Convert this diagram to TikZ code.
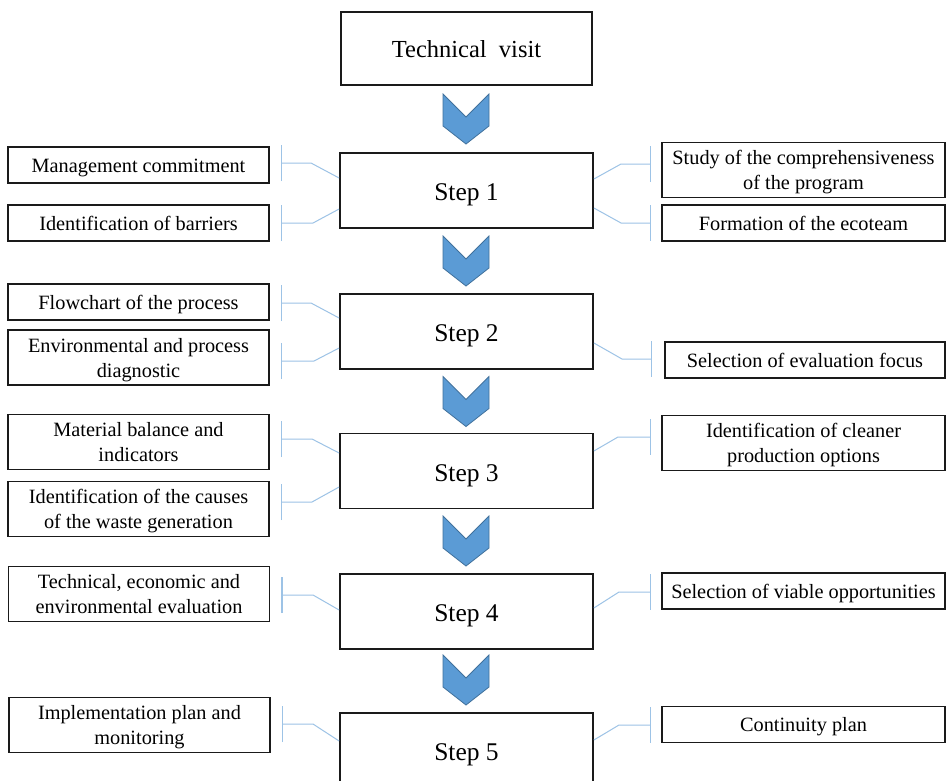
\documentclass[tikz,border=0pt]{standalone}
\usepackage{fontspec}
\setmainfont{Liberation Serif}
\usetikzlibrary{arrows.meta,calc}
\definecolor{chevfill}{HTML}{5B9BD5}
\definecolor{chevline}{HTML}{41719C}
\definecolor{connc}{HTML}{9DC3E6}
\definecolor{boxline}{HTML}{1A1A1A}
\tikzset{
  stepbox/.style={draw=boxline, line width=1.8pt, minimum width=253pt, minimum height=75pt, inner sep=0pt,
    font=\fontsize{25.5}{30}\selectfont, align=center, text height=20pt, text depth=0pt},
  leftbox/.style={draw=boxline, line width=1.6pt, minimum width=261pt, inner sep=0pt,
    font=\fontsize{20.3}{25}\selectfont, align=center},
  rightbox/.style={draw=boxline, line width=1.6pt, minimum width=283pt, inner sep=0pt,
    font=\fontsize{20.3}{25}\selectfont, align=center},
  oneline/.style={minimum height=36pt, text height=14.5pt, text depth=0pt},
  twoline/.style={minimum height=55pt, text depth=0pt},
  conn/.style={draw=connc, line width=1pt, -{Bar[width=36pt, line width=1.6pt]}},
  chevstyle/.style={fill=chevfill, draw=chevline, line width=0.8pt, line join=miter},
  chevron/.pic={\path[chevstyle] (-23,-25) -- (0,-2) -- (23,-25) -- (23,7) -- (0,25) -- (-23,7) -- cycle;}
}
\begin{document}
\begin{tikzpicture}[x=1pt,y=-1pt]
\useasboundingbox (0,0) rectangle (948,780);
\clip (0,0) rectangle (948,780);
\fill[white] (0,0) rectangle (948,780);

% main column
\node[stepbox, minimum width=251pt, minimum height=73pt, font=\fontsize{24.5}{30}\selectfont, text height=17pt] (tv) at (466.5,48.5) {Technical\ \ visit};
\node[stepbox] (s1) at (466.5,190.5) {Step 1};
\node[stepbox] (s2) at (466.5,331.5) {Step 2};
\node[stepbox] (s3) at (466.5,471) {Step 3};
\node[stepbox] (s4) at (466.5,611.5) {Step 4};
\node[stepbox] (s5) at (466.5,750.5) {Step 5};

\pic at (466,119) {chevron};
\pic at (466,261) {chevron};
\pic at (466,401.5) {chevron};
\pic at (466,541) {chevron};
\pic at (466,680) {chevron};

% left boxes
\node[leftbox, oneline] (l1a) at (138.5,165) {Management commitment};
\node[leftbox, oneline] (l1b) at (138.5,223) {Identification of barriers};
\node[leftbox, oneline] (l2a) at (138.5,302) {Flowchart of the process};
\node[leftbox, twoline] (l2b) at (138.5,357.5) {Environmental and process\\diagnostic};
\node[leftbox, twoline] (l3a) at (138.5,442) {Material balance and\\indicators};
\node[leftbox, twoline] (l3b) at (138.5,509) {Identification of the causes\\of the waste generation};
\node[leftbox, twoline] (l4) at (139,594) {Technical, economic and\\environmental evaluation};
\node[leftbox, twoline] (l5) at (139.5,725) {Implementation plan and\\monitoring};

% right boxes
\node[rightbox, twoline] (r1a) at (803.5,170) {Study of the comprehensiveness\\of the program};
\node[rightbox, oneline] (r1b) at (803.5,223) {Formation of the ecoteam};
\node[rightbox, oneline, minimum width=280pt] (r2) at (805,360) {Selection of evaluation focus};
\node[rightbox, twoline] (r3) at (803.5,443) {Identification of cleaner\\production options};
\node[rightbox, oneline] (r4) at (803.5,591) {Selection of viable opportunities};
\node[rightbox, oneline] (r5) at (803.5,724.5) {Continuity plan};

% connectors left
\draw[conn] (s1.west |- 0,178) -- (311,163) -- ([xshift=11pt]l1a.east |- 0,163);
\draw[conn] (s1.west |- 0,209) -- (313,223) -- ([xshift=11pt]l1b.east |- 0,223);
\draw[conn] (s2.west |- 0,318) -- (311,303) -- ([xshift=11pt]l2a.east |- 0,303);
\draw[conn] (s2.west |- 0,348) -- (314,361) -- ([xshift=11pt]l2b.east |- 0,361);
\draw[conn] (s3.west |- 0,453) -- (312,439) -- ([xshift=11pt]l3a.east |- 0,439);
\draw[conn] (s3.west |- 0,487) -- (312,502) -- ([xshift=11pt]l3b.east |- 0,502);
\draw[conn] (s4.west |- 0,610) -- (313,595) -- ([xshift=11pt]l4.east |- 0,595);
\draw[conn] (s5.west |- 0,741) -- (313,724) -- ([xshift=11pt]l5.east |- 0,724);

% connectors right
\draw[conn] (s1.east |- 0,179) -- (621,164) -- ([xshift=-10pt]r1a.west |- 0,164);
\draw[conn] (s1.east |- 0,208) -- (621,223) -- ([xshift=-10pt]r1b.west |- 0,223);
\draw[conn] (s2.east |- 0,343) -- (622,359) -- ([xshift=-12pt]r2.west |- 0,359);
\draw[conn] (s3.east |- 0,451) -- (618,437) -- ([xshift=-10pt]r3.west |- 0,437);
\draw[conn] (s4.east |- 0,608) -- (619,592) -- ([xshift=-10pt]r4.west |- 0,592);
\draw[conn] (s5.east |- 0,740) -- (619,725) -- ([xshift=-10pt]r5.west |- 0,725);
\end{tikzpicture}
\end{document}
